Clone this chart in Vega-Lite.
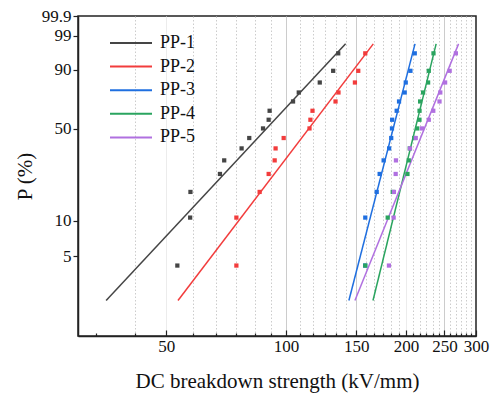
{
  "$schema": "https://vega.github.io/schema/vega-lite/v6.json",
  "width": 398,
  "height": 320,
  "autosize": "none",
  "padding": {"left": 78, "top": 16, "right": 20, "bottom": 58},
  "datasets": {
    "fits": [
      {"series": "PP-1", "strength": 35.3, "weibull": -3.8755},
      {"series": "PP-1", "strength": 141.1, "weibull": 1.364},
      {"series": "PP-2", "strength": 53.5, "weibull": -3.8755},
      {"series": "PP-2", "strength": 165.6, "weibull": 1.364},
      {"series": "PP-3", "strength": 143.8, "weibull": -3.8755},
      {"series": "PP-3", "strength": 210.8, "weibull": 1.364},
      {"series": "PP-4", "strength": 165.3, "weibull": -3.8755},
      {"series": "PP-4", "strength": 238.2, "weibull": 1.364},
      {"series": "PP-5", "strength": 148.9, "weibull": -3.8755},
      {"series": "PP-5", "strength": 271.2, "weibull": 1.364}
    ],
    "points": [
      {"series": "PP-1", "strength": 53.3, "weibull": -3.162},
      {"series": "PP-1", "strength": 57.4, "weibull": -2.183},
      {"series": "PP-1", "strength": 57.5, "weibull": -1.659},
      {"series": "PP-1", "strength": 68.2, "weibull": -1.292},
      {"series": "PP-1", "strength": 69.9, "weibull": -1.015},
      {"series": "PP-1", "strength": 77.3, "weibull": -0.7705},
      {"series": "PP-1", "strength": 80.8, "weibull": -0.5585},
      {"series": "PP-1", "strength": 87.5, "weibull": -0.3627},
      {"series": "PP-1", "strength": 90.4, "weibull": -0.1854},
      {"series": "PP-1", "strength": 90.9, "weibull": -0.0019},
      {"series": "PP-1", "strength": 104.1, "weibull": 0.1877},
      {"series": "PP-1", "strength": 107.6, "weibull": 0.3712},
      {"series": "PP-1", "strength": 121.5, "weibull": 0.5751},
      {"series": "PP-1", "strength": 131.3, "weibull": 0.8136},
      {"series": "PP-1", "strength": 135.2, "weibull": 1.1704},
      {"series": "PP-2", "strength": 75.0, "weibull": -3.162},
      {"series": "PP-2", "strength": 75.0, "weibull": -2.183},
      {"series": "PP-2", "strength": 85.8, "weibull": -1.659},
      {"series": "PP-2", "strength": 90.4, "weibull": -1.292},
      {"series": "PP-2", "strength": 93.6, "weibull": -1.015},
      {"series": "PP-2", "strength": 94.1, "weibull": -0.7705},
      {"series": "PP-2", "strength": 98.6, "weibull": -0.5585},
      {"series": "PP-2", "strength": 114.5, "weibull": -0.3627},
      {"series": "PP-2", "strength": 115.1, "weibull": -0.1854},
      {"series": "PP-2", "strength": 116.5, "weibull": -0.0019},
      {"series": "PP-2", "strength": 133.1, "weibull": 0.1877},
      {"series": "PP-2", "strength": 135.4, "weibull": 0.3712},
      {"series": "PP-2", "strength": 148.9, "weibull": 0.5751},
      {"series": "PP-2", "strength": 151.8, "weibull": 0.8136},
      {"series": "PP-2", "strength": 158.1, "weibull": 1.1704},
      {"series": "PP-3", "strength": 158.0, "weibull": -3.162},
      {"series": "PP-3", "strength": 158.1, "weibull": -2.183},
      {"series": "PP-3", "strength": 168.9, "weibull": -1.659},
      {"series": "PP-3", "strength": 171.8, "weibull": -1.292},
      {"series": "PP-3", "strength": 175.8, "weibull": -1.015},
      {"series": "PP-3", "strength": 181.5, "weibull": -0.7705},
      {"series": "PP-3", "strength": 183.7, "weibull": -0.5585},
      {"series": "PP-3", "strength": 184.5, "weibull": -0.3627},
      {"series": "PP-3", "strength": 184.7, "weibull": -0.1854},
      {"series": "PP-3", "strength": 189.6, "weibull": -0.0019},
      {"series": "PP-3", "strength": 192.2, "weibull": 0.1877},
      {"series": "PP-3", "strength": 198.6, "weibull": 0.3712},
      {"series": "PP-3", "strength": 199.8, "weibull": 0.5751},
      {"series": "PP-3", "strength": 205.3, "weibull": 0.8136},
      {"series": "PP-3", "strength": 210.5, "weibull": 1.1704},
      {"series": "PP-4", "strength": 158.1, "weibull": -3.162},
      {"series": "PP-4", "strength": 180.0, "weibull": -2.183},
      {"series": "PP-4", "strength": 185.3, "weibull": -1.659},
      {"series": "PP-4", "strength": 201.8, "weibull": -1.292},
      {"series": "PP-4", "strength": 203.3, "weibull": -1.015},
      {"series": "PP-4", "strength": 204.5, "weibull": -0.7705},
      {"series": "PP-4", "strength": 209.9, "weibull": -0.5585},
      {"series": "PP-4", "strength": 213.6, "weibull": -0.3627},
      {"series": "PP-4", "strength": 216.3, "weibull": -0.1854},
      {"series": "PP-4", "strength": 216.4, "weibull": -0.0019},
      {"series": "PP-4", "strength": 217.1, "weibull": 0.1877},
      {"series": "PP-4", "strength": 220.9, "weibull": 0.3712},
      {"series": "PP-4", "strength": 227.4, "weibull": 0.5751},
      {"series": "PP-4", "strength": 228.3, "weibull": 0.8136},
      {"series": "PP-4", "strength": 234.6, "weibull": 1.1704},
      {"series": "PP-5", "strength": 181.3, "weibull": -3.162},
      {"series": "PP-5", "strength": 186.3, "weibull": -2.183},
      {"series": "PP-5", "strength": 186.6, "weibull": -1.659},
      {"series": "PP-5", "strength": 188.5, "weibull": -1.292},
      {"series": "PP-5", "strength": 188.8, "weibull": -1.015},
      {"series": "PP-5", "strength": 204.8, "weibull": -0.7705},
      {"series": "PP-5", "strength": 211.7, "weibull": -0.5585},
      {"series": "PP-5", "strength": 219.5, "weibull": -0.3627},
      {"series": "PP-5", "strength": 228.3, "weibull": -0.1854},
      {"series": "PP-5", "strength": 234.3, "weibull": -0.0019},
      {"series": "PP-5", "strength": 242.9, "weibull": 0.1877},
      {"series": "PP-5", "strength": 244.0, "weibull": 0.3712},
      {"series": "PP-5", "strength": 250.9, "weibull": 0.5751},
      {"series": "PP-5", "strength": 257.6, "weibull": 0.8136},
      {"series": "PP-5", "strength": 267.0, "weibull": 1.1704}
    ]
  },
  "encoding": {
    "x": {
      "field": "strength",
      "type": "quantitative",
      "scale": {"type": "log", "domain": [30, 300], "nice": false},
      "axis": {
        "title": "DC breakdown strength (kV/mm)",
        "values": [33.333, 41.667, 50, 58.333, 66.667, 75, 83.333, 91.667, 100, 108.333, 116.667, 125, 133.333, 141.667, 150, 158.333, 166.667, 175, 183.333, 191.667, 200, 208.333, 216.667, 225, 233.333, 241.667, 250, 258.333, 266.667, 275, 283.333, 291.667, 300],
        "labelExpr": "datum.value % 50 === 0 ? datum.value : ''",
        "labelOverlap": false,
        "labelBound": false,
        "labelFlush": false,
        "tickSize": {"condition": {"test": "datum.value % 50 === 0", "value": -6}, "value": -3},
        "labelPadding": 8,
        "labelFontSize": 17,
        "titleFontSize": 21,
        "titlePadding": 13,
        "grid": true,
        "gridDash": {"condition": {"test": "datum.value % 50 === 0", "value": []}, "value": [1.5, 2]},
        "gridColor": {"condition": {"test": "datum.value === 50 || datum.value === 200", "value": "#ececec"}, "value": "#cccccc"},
        "gridOpacity": {"condition": {"test": "datum.value < 34 || datum.value >= 300", "value": 0}, "value": 1},
        "gridWidth": 1
      }
    },
    "y": {
      "field": "weibull",
      "type": "quantitative",
      "scale": {"domain": [-4.6002, 1.9327], "nice": false, "zero": false},
      "axis": {
        "title": "P (%)",
        "values": [1.9327, 1.5272, 0.834, -0.3665, -2.2504, -2.9702],
        "labelExpr": "datum.value > 1.9 ? '99.9' : datum.value > 1.5 ? '99' : datum.value > 0.8 ? '90' : datum.value > -0.4 ? '50' : datum.value > -2.3 ? '10' : '5'",
        "labelOverlap": false,
        "labelBound": false,
        "tickSize": 5,
        "labelPadding": 2,
        "labelFontSize": 17,
        "titleFontSize": 21,
        "titlePadding": 6,
        "grid": false
      }
    },
    "color": {
      "field": "series",
      "type": "nominal",
      "scale": {"domain": ["PP-1", "PP-2", "PP-3", "PP-4", "PP-5"], "range": ["#454545", "#f23c3c", "#1f6fe0", "#2aa45f", "#b070e0"]}
    }
  },
  "layer": [
    {
      "data": {"name": "fits"},
      "mark": {"type": "line", "strokeWidth": 1.5},
      "encoding": {
        "detail": {"field": "series"},
        "color": {
          "field": "series",
          "type": "nominal",
          "legend": {
            "title": null,
            "orient": "none",
            "legendX": 44,
            "legendY": 18,
            "symbolType": "M-3.5,0H3.5",
            "symbolSize": 144,
            "symbolStrokeWidth": 2,
            "labelFontSize": 18,
            "labelColor": "#111",
            "labelOffset": 20,
            "rowPadding": 5.6
          }
        }
      }
    },
    {
      "data": {"name": "points"},
      "mark": {"type": "square", "size": 18, "filled": true, "opacity": 1},
      "encoding": {
        "color": {"field": "series", "type": "nominal", "legend": null}
      }
    }
  ],
  "config": {
    "font": "Liberation Serif",
    "view": {"stroke": "#222", "strokeWidth": 1.5},
    "axis": {
      "domainColor": "#222",
      "domainWidth": 1.5,
      "tickColor": "#222",
      "tickWidth": 1.2,
      "labelColor": "#111",
      "titleColor": "#111",
      "titleFontWeight": "normal",
      "labelFont": "Liberation Serif",
      "titleFont": "Liberation Serif"
    },
    "legend": {"labelFont": "Liberation Serif"}
  }
}
